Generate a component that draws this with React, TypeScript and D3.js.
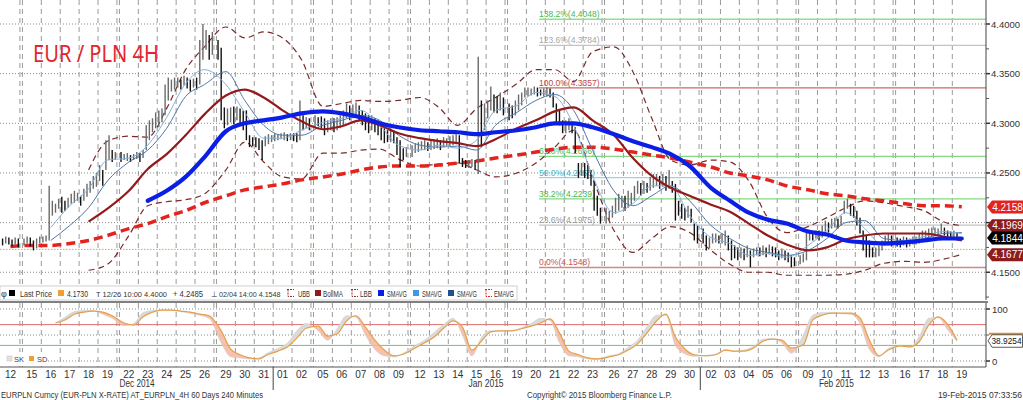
import React from "react";
import * as d3 from "d3";

const W = 1023;
const H = 400;
const FONT = "'Liberation Sans', Arial, sans-serif";

// ---------- categories ----------
const tradingDays = [
  "2014-12-12", "2014-12-15", "2014-12-16", "2014-12-17", "2014-12-18", "2014-12-19",
  "2014-12-22", "2014-12-23", "2014-12-24", "2014-12-25", "2014-12-26",
  "2014-12-29", "2014-12-30", "2014-12-31", "2015-01-01", "2015-01-02",
  "2015-01-05", "2015-01-06", "2015-01-07", "2015-01-08", "2015-01-09",
  "2015-01-12", "2015-01-13", "2015-01-14", "2015-01-15", "2015-01-16",
  "2015-01-19", "2015-01-20", "2015-01-21", "2015-01-22", "2015-01-23",
  "2015-01-26", "2015-01-27", "2015-01-28", "2015-01-29", "2015-01-30",
  "2015-02-02", "2015-02-03", "2015-02-04", "2015-02-05", "2015-02-06",
  "2015-02-09", "2015-02-10", "2015-02-11", "2015-02-12", "2015-02-13",
  "2015-02-16", "2015-02-17", "2015-02-18", "2015-02-19",
];
const BARS_PER_DAY = 6;

// ---------- 4H bars [high, low] ----------
const decBars: [number, number][] = [
  [4.184, 4.177], [4.186, 4.179], [4.185, 4.178], [4.183, 4.176], [4.185, 4.178], [4.184, 4.175],
  [4.184, 4.177], [4.186, 4.179], [4.185, 4.176], [4.182, 4.172], [4.184, 4.174], [4.186, 4.179],
  [4.186, 4.180], [4.187, 4.181], [4.237, 4.182], [4.222, 4.207], [4.219, 4.210], [4.224, 4.214],
  [4.226, 4.210], [4.222, 4.212], [4.225, 4.215], [4.229, 4.219], [4.232, 4.220], [4.230, 4.222],
  [4.227, 4.217], [4.234, 4.222], [4.239, 4.226], [4.242, 4.230], [4.247, 4.234], [4.250, 4.236],
  [4.258, 4.242], [4.253, 4.237], [4.283, 4.253], [4.288, 4.263], [4.273, 4.261], [4.271, 4.263],
  [4.271, 4.261], [4.269, 4.263], [4.270, 4.262], [4.268, 4.261], [4.269, 4.263], [4.271, 4.264],
  [4.270, 4.261], [4.273, 4.265], [4.298, 4.273], [4.303, 4.283], [4.305, 4.291], [4.311, 4.295],
  [4.313, 4.296], [4.315, 4.301], [4.339, 4.308], [4.346, 4.323], [4.344, 4.332], [4.346, 4.334],
  [4.346, 4.336], [4.344, 4.334], [4.348, 4.338], [4.346, 4.335], [4.344, 4.332], [4.345, 4.336],
  [4.346, 4.334], [4.384, 4.339], [4.400, 4.364], [4.394, 4.374], [4.389, 4.364], [4.392, 4.369],
  [4.384, 4.364], [4.376, 4.303], [4.316, 4.295], [4.315, 4.298], [4.316, 4.301], [4.317, 4.299],
  [4.317, 4.303], [4.315, 4.298], [4.313, 4.293], [4.313, 4.283], [4.288, 4.276], [4.286, 4.277],
  [4.286, 4.276], [4.285, 4.273], [4.283, 4.263], [4.287, 4.277], [4.289, 4.279], [4.288, 4.281],
];
const janBars: [number, number][] = [
  [4.290, 4.282], [4.289, 4.283], [4.290, 4.284], [4.291, 4.283], [4.289, 4.282], [4.290, 4.283],
  [4.290, 4.282], [4.290, 4.281], [4.323, 4.283], [4.308, 4.293], [4.306, 4.295], [4.305, 4.293],
  [4.308, 4.296], [4.306, 4.297], [4.307, 4.295], [4.305, 4.288], [4.303, 4.291], [4.305, 4.293],
  [4.305, 4.291], [4.306, 4.293], [4.308, 4.295], [4.313, 4.298], [4.320, 4.305], [4.318, 4.303],
  [4.319, 4.305], [4.321, 4.308], [4.318, 4.303], [4.313, 4.298], [4.310, 4.293], [4.308, 4.290],
  [4.308, 4.293], [4.305, 4.291], [4.303, 4.288], [4.296, 4.283], [4.295, 4.280], [4.293, 4.281],
  [4.295, 4.281], [4.293, 4.280], [4.286, 4.268], [4.283, 4.256], [4.275, 4.263], [4.276, 4.266],
  [4.278, 4.266], [4.280, 4.270], [4.281, 4.271], [4.282, 4.273], [4.283, 4.273], [4.281, 4.272],
  [4.283, 4.273], [4.284, 4.274], [4.285, 4.275], [4.283, 4.273], [4.286, 4.276], [4.285, 4.277],
  [4.287, 4.277], [4.288, 4.278], [4.289, 4.279], [4.288, 4.260], [4.265, 4.256], [4.263, 4.255],
  [4.263, 4.255], [4.264, 4.256], [4.263, 4.253], [4.367, 4.249], [4.323, 4.276], [4.320, 4.293],
  [4.323, 4.305], [4.337, 4.313], [4.329, 4.311], [4.327, 4.310], [4.331, 4.313], [4.326, 4.308],
  [4.320, 4.303], [4.318, 4.305], [4.323, 4.308], [4.329, 4.313], [4.331, 4.318], [4.336, 4.326],
  [4.336, 4.327], [4.335, 4.328], [4.337, 4.329], [4.336, 4.327], [4.334, 4.328], [4.335, 4.327],
  [4.336, 4.327], [4.335, 4.326], [4.331, 4.316], [4.320, 4.300], [4.313, 4.298], [4.303, 4.290],
  [4.303, 4.290], [4.305, 4.293], [4.301, 4.290], [4.296, 4.270], [4.260, 4.245], [4.260, 4.247],
  [4.260, 4.245], [4.258, 4.244], [4.253, 4.237], [4.242, 4.212], [4.227, 4.207], [4.215, 4.199],
  [4.215, 4.199], [4.212, 4.202], [4.217, 4.205], [4.225, 4.209], [4.229, 4.212], [4.227, 4.215],
  [4.227, 4.212], [4.232, 4.215], [4.230, 4.217], [4.237, 4.222], [4.242, 4.229], [4.240, 4.227],
  [4.242, 4.229], [4.240, 4.230], [4.246, 4.232], [4.249, 4.235], [4.249, 4.237], [4.247, 4.234],
  [4.249, 4.236], [4.247, 4.232], [4.253, 4.234], [4.242, 4.230], [4.239, 4.202], [4.222, 4.207],
  [4.219, 4.204], [4.215, 4.202], [4.217, 4.205], [4.214, 4.200], [4.199, 4.182], [4.197, 4.179],
];
const febBars: [number, number][] = [
  [4.194, 4.179], [4.187, 4.172], [4.185, 4.174], [4.189, 4.179], [4.189, 4.180], [4.187, 4.179],
  [4.189, 4.179], [4.192, 4.177], [4.187, 4.172], [4.182, 4.162], [4.177, 4.164], [4.175, 4.162],
  [4.175, 4.164], [4.174, 4.162], [4.177, 4.165], [4.172, 4.155], [4.174, 4.165], [4.175, 4.167],
  [4.175, 4.166], [4.177, 4.167], [4.175, 4.165], [4.178, 4.168], [4.176, 4.166], [4.175, 4.165],
  [4.172, 4.162], [4.174, 4.164], [4.172, 4.162], [4.170, 4.160], [4.167, 4.155], [4.165, 4.156],
  [4.167, 4.158], [4.169, 4.160], [4.192, 4.162], [4.192, 4.182], [4.190, 4.182], [4.192, 4.184],
  [4.192, 4.182], [4.197, 4.185], [4.202, 4.189], [4.200, 4.190], [4.204, 4.194], [4.205, 4.195],
  [4.204, 4.194], [4.207, 4.197], [4.222, 4.209], [4.224, 4.214], [4.219, 4.207], [4.217, 4.205],
  [4.212, 4.197], [4.205, 4.189], [4.192, 4.172], [4.187, 4.165], [4.182, 4.165], [4.175, 4.165],
  [4.175, 4.165], [4.177, 4.166], [4.182, 4.172], [4.187, 4.177], [4.189, 4.179], [4.187, 4.176],
  [4.185, 4.176], [4.184, 4.175], [4.186, 4.177], [4.185, 4.175], [4.184, 4.176], [4.186, 4.178],
  [4.186, 4.178], [4.189, 4.179], [4.192, 4.180], [4.192, 4.182], [4.194, 4.185], [4.195, 4.186],
  [4.195, 4.186], [4.194, 4.187], [4.199, 4.189], [4.195, 4.187], [4.192, 4.185], [4.191, 4.185],
  [4.192, 4.185], [4.190, 4.184],
];

// ---------- daily indicator readings (one per trading day) ----------
const N7 = [null, null, null, null, null, null, null];
const emaAvg: (number | null)[] = [
  4.176, 4.177, 4.177, 4.179, 4.182, 4.187, 4.194, 4.199, 4.206, 4.212,
  4.220, 4.227, 4.233, 4.236, 4.239, 4.243, 4.246, 4.249, 4.253, 4.256,
  4.257, 4.257, 4.258, 4.260, 4.262, 4.265, 4.268, 4.271, 4.274, 4.276,
  4.276, 4.274, 4.271, 4.268, 4.265, 4.261, 4.256, 4.250, 4.247, 4.243,
  4.237, 4.233, 4.229, 4.227, 4.224, 4.222, 4.219, 4.217, 4.217, 4.216,
];
const smaSlow: (number | null)[] = [
  ...N7,
  4.222, 4.232, 4.246, 4.266, 4.292, 4.300, 4.303, 4.306, 4.310, 4.312,
  4.310, 4.306, 4.300, 4.296, 4.293, 4.292, 4.291, 4.289, 4.291, 4.293,
  4.296, 4.300, 4.300, 4.296, 4.289, 4.282, 4.276, 4.269, 4.257, 4.235,
  4.222, 4.210, 4.203, 4.199, 4.191, 4.188, 4.182, 4.180, 4.179, 4.180,
  4.182, 4.184, 4.184,
];
const bollMA: (number | null)[] = [
  null, null, null, null,
  4.201, 4.214, 4.232, 4.254, 4.269, 4.288, 4.309, 4.328, 4.334, 4.326,
  4.313, 4.302, 4.294, 4.297, 4.303, 4.298, 4.290, 4.285, 4.282, 4.280,
  4.277, 4.284, 4.295, 4.303, 4.312, 4.316, 4.303, 4.288, 4.265, 4.247,
  4.235, 4.227, 4.218, 4.211, 4.199, 4.187, 4.178, 4.172, 4.175, 4.183,
  4.187, 4.189, 4.189, 4.189, 4.186, 4.182,
];
const upperBand: (number | null)[] = [
  null, null, null, null,
  4.253, 4.282, 4.287, 4.286, 4.315, 4.354, 4.377, 4.397, 4.386, 4.392,
  4.386, 4.364, 4.317, 4.320, 4.323, 4.322, 4.323, 4.326, 4.316, 4.298,
  4.315, 4.326, 4.340, 4.354, 4.354, 4.342, 4.372, 4.377, 4.352, 4.305,
  4.263, 4.258, 4.263, 4.261, 4.242, 4.205, 4.190, 4.196, 4.205, 4.215,
  4.222, 4.220, 4.216, 4.212, 4.201, 4.197,
];
const lowerBand: (number | null)[] = [
  null, null, null, null,
  4.152, 4.158, 4.187, 4.217, 4.221, 4.223, 4.229, 4.253, 4.281, 4.261,
  4.246, 4.244, 4.270, 4.270, 4.273, 4.274, 4.264, 4.257, 4.259, 4.260,
  4.253, 4.246, 4.250, 4.260, 4.276, 4.293, 4.245, 4.192, 4.170, 4.184,
  4.196, 4.190, 4.172, 4.158, 4.150, 4.150, 4.147, 4.147, 4.147, 4.148,
  4.152, 4.159, 4.161, 4.160, 4.163, 4.168,
];
const smaFast: (number | null)[] = [
  null, null,
  4.195, 4.217, 4.234, 4.263, 4.265, 4.278, 4.306, 4.340, 4.354, 4.339,
  4.311, 4.285, 4.285, 4.293, 4.301, 4.305, 4.313, 4.298, 4.278, 4.273,
  4.278, 4.275, 4.283, 4.313, 4.318, 4.331, 4.327, 4.298, 4.247, 4.210,
  4.219, 4.237, 4.237, 4.207, 4.185, 4.179, 4.167, 4.169, 4.165, 4.177,
  4.192, 4.210, 4.194, 4.177, 4.182, 4.186, 4.191, 4.189,
];
const smaMid: (number | null)[] = [
  null, null,
  4.182, 4.197, 4.215, 4.242, 4.261, 4.273, 4.295, 4.327, 4.339, 4.352,
  4.323, 4.298, 4.288, 4.288, 4.298, 4.303, 4.308, 4.303, 4.288, 4.278,
  4.276, 4.277, 4.273, 4.298, 4.311, 4.323, 4.329, 4.313, 4.273, 4.232,
  4.217, 4.227, 4.237, 4.222, 4.197, 4.184, 4.174, 4.170, 4.167, 4.172,
  4.184, 4.200, 4.202, 4.184, 4.182, 4.184, 4.189, 4.190,
];

// ---------- slow stochastic, two readings per trading day ----------
const N5 = [null, null, null, null, null];
const stochD: (number | null)[] = [
  ...N5, 73,
  79, 90, 94, 96, 94, 87, 73, 69, 85, 94, 98, 98, 96, 94, 90, 87,
  58, 23, 12, 6, 4, 13, 19, 27, 44, 63, 67, 48, 52, 77, 87, 65, 40, 21, 10, 13,
  25, 35, 46, 63, 77, 65, 21, 38, 56, 58, 58, 62, 67, 73, 81, 54, 19, 12, 6, 4,
  8, 12, 21, 33, 54, 77, 90, 46, 23, 12, 10, 12, 21, 19, 19, 25, 38, 42, 40, 25,
  31, 79, 88, 92, 92, 92, 83, 40, 10, 21, 29, 27, 37, 69, 85, 71,
  40,
];
const stochK: (number | null)[] = [
  ...N5, 73,
  84, 95, 97, 97, 90, 82, 68, 72, 93, 97, 98, 98, 95, 92, 88, 82,
  35, 8, 6, 4, 6, 16, 24, 34, 58, 72, 58, 40, 62, 87, 84, 50, 22, 10, 8, 15,
  30, 40, 55, 70, 82, 50, 10, 45, 58, 58, 59, 64, 72, 82, 78, 35, 10, 8, 4, 3,
  10, 14, 26, 40, 66, 88, 88, 30, 14, 9, 11, 13, 22, 18, 21, 28, 42, 43, 35, 15,
  50, 88, 93, 93, 91, 90, 72, 22, 8, 24, 29, 27, 47, 82, 84, 60,
  38,
];

// ---------- fibonacci levels ----------
const fibPct = ["138.2%", "123.6%", "100.0%", "61.8%", "50.0%", "38.2%", "23.6%", "0.0%"];
const fibVal = [4.4048, 4.3784, 4.3357, 4.2666, 4.2453, 4.2239, 4.1975, 4.1548];
const fibColor = ["#8ee08e", "#c4c4c4", "#c86a6a", "#84d884", "#8fd8e4", "#84d884", "#c4c4c4", "#c98b8b"];
const fibTextColor = ["#4cb84c", "#a8a8a8", "#c04848", "#4cb84c", "#3fb8cc", "#4cb84c", "#9a9a9a", "#c05858"];
const FIB_START_DAY = 27;
const FIB_START_BAR = 4;

// ---------- axis ticks & tags ----------
const priceTicks = [4.40, 4.35, 4.30, 4.25, 4.20, 4.15];
const priceMinor = [4.375, 4.325, 4.275, 4.225, 4.175, 4.125];
const stochTicks = [100, 0];
const stochGrid = [100, 50, 0];
const stochUpper = 70;
const stochLower = 30;
const lastPrice = 4.1730;
const tagValues = [4.2158, 4.1969, 4.1844, 4.1677];
const tagFill = ["#e3231e", "#8c1c1c", "#000000", "#8c1c1c"];
const stochLast = 38.9254;

export default function App() {
  const parse = d3.utcParse("%Y-%m-%d");
  const dates = tradingDays.map((s) => parse(s) as Date);
  const weekendBefore = dates.map((d, i) => (i > 0 && d3.utcDay.count(dates[i - 1], d) > 1 ? 1 : 0));
  const wkCum = Array.from(d3.cumsum(weekendBefore));
  const GAP = 0.8;
  const slotStart = dates.map((_, i) => i * BARS_PER_DAY + wkCum[i] * GAP);
  const totalSlots = slotStart[slotStart.length - 1] + BARS_PER_DAY;
  const SLOT_PX = 3.15;
  const x = d3.scaleLinear().domain([0, totalSlots]).range([1, 1 + totalSlots * SLOT_PX]);

  const PLOT_R = 986;
  const MAIN_TOP = 0;
  const MAIN_BOT = 300;
  const ST_TOP = 303;
  const ST_BOT = 367;

  const y = d3.scaleLinear().domain([4.4, 4.15]).range([24, 272.25]);
  const ys = d3.scaleLinear().domain([0, 100]).range([361, 309]);

  const bars = [...decBars, ...janBars, ...febBars];
  const barX = (k: number) => x(slotStart[Math.floor(k / BARS_PER_DAY)] + (k % BARS_PER_DAY) + 0.5);
  const dayX = (i: number) => x(slotStart[i] + BARS_PER_DAY / 2);
  const halfX = (h: number) => x(slotStart[Math.floor(h / 2)] + 1.5 + 3 * (h % 2));

  const mk = (vals: (number | null)[], xAt: (i: number) => number, sc: (v: number) => number) => {
    const pts = vals.map((v, i) => [xAt(i), v] as [number, number | null]);
    return (
      d3
        .line<[number, number | null]>()
        .defined((p) => p[1] != null)
        .x((p) => p[0])
        .y((p) => sc(p[1] as number))
        .curve(d3.curveMonotoneX)(pts) || ""
    );
  };

  // grid verticals
  const vLines: number[] = [];
  dates.forEach((_, i) => {
    if (i === 0) return;
    if (weekendBefore[i]) vLines.push(x(slotStart[i - 1] + BARS_PER_DAY));
    vLines.push(x(slotStart[i]));
  });

  // month groups
  const fmtMonth = d3.utcFormat("%b %Y");
  const fmtDay = d3.utcFormat("%d");
  const months = d3.groups(dates.map((d, i) => ({ d, i })), (o) => fmtMonth(o.d));
  const monthSeps: number[] = [];
  months.forEach((m, mi) => {
    if (mi === 0) return;
    const first = m[1][0].i;
    monthSeps.push((x(slotStart[first - 1] + BARS_PER_DAY) + x(slotStart[first])) / 2);
  });

  // stochastic fills
  type SP = { x: number; d: number; k: number };
  const sp: SP[] = [];
  stochD.forEach((dv, i) => {
    const kv = stochK[i];
    if (dv != null && kv != null) sp.push({ x: halfX(i), d: dv, k: kv });
  });
  const between = d3.area<SP>().x((p) => p.x).y0((p) => ys(p.d)).y1((p) => ys(p.k)).curve(d3.curveMonotoneX)(sp) || "";
  const aboveD = d3.area<SP>().x((p) => p.x).y0(ST_TOP).y1((p) => ys(p.d)).curve(d3.curveMonotoneX)(sp) || "";
  const belowD = d3.area<SP>().x((p) => p.x).y0(ST_BOT).y1((p) => ys(p.d)).curve(d3.curveMonotoneX)(sp) || "";

  const fibX0 = x(slotStart[FIB_START_DAY] + FIB_START_BAR);

  const tagYs = tagValues.map((v) => y(v));
  const hiddenTick = (t: number) => tagYs.some((ty) => Math.abs(ty - y(t)) < 9);

  const tag = (v: number, fill: string, key: number) => {
    const yc = y(v);
    return (
      <g key={key}>
        <path d={`M987,${yc} L992,${yc - 6.5} L1023,${yc - 6.5} L1023,${yc + 6.5} L992,${yc + 6.5} Z`} fill={fill} />
        <text x={1007.5} y={yc + 3.6} textAnchor="middle" fill="#fff" fontSize={10} fontFamily={FONT}>
          {v.toFixed(4)}
        </text>
      </g>
    );
  };

  const legendText = (tx: number, s: string, len?: number, fs = 8.5) => (
    <text x={tx} y={296.5} fontSize={fs} fill="#333" fontFamily={FONT} textLength={len} lengthAdjust="spacingAndGlyphs">
      {s}
    </text>
  );

  const stEnd = ys(stochLast);

  return (
    <svg width={W} height={H} style={{ position: "absolute", left: 0, top: 0, background: "#fff" }} fontFamily={FONT}>
      <defs>
        <clipPath id="clipAbove"><path d={aboveD} /></clipPath>
        <clipPath id="clipBelow"><path d={belowD} /></clipPath>
        <clipPath id="mainClip"><rect x={0} y={MAIN_TOP} width={PLOT_R} height={MAIN_BOT - MAIN_TOP} /></clipPath>
      </defs>
      <rect x={0} y={0} width={W} height={H} fill="#fff" />

      {/* vertical dashed grid */}
      <g stroke="#9a9a9a" strokeWidth={1} strokeDasharray="5,4">
        {vLines.map((vx, i) => (
          <line key={"m" + i} x1={vx} x2={vx} y1={MAIN_TOP} y2={MAIN_BOT} />
        ))}
        {vLines.map((vx, i) => (
          <line key={"s" + i} x1={vx} x2={vx} y1={ST_TOP} y2={ST_BOT} />
        ))}
      </g>
      {/* horizontal dotted grid */}
      <g stroke="#8a8a8a" strokeWidth={1} strokeDasharray="1,2">
        {priceTicks.map((t) => (
          <line key={t} x1={0} x2={PLOT_R} y1={y(t)} y2={y(t)} />
        ))}
        {stochGrid.map((t) => (
          <line key={"s" + t} x1={0} x2={PLOT_R} y1={ys(t)} y2={ys(t)} />
        ))}
      </g>

      {/* fibonacci */}
      {fibVal.map((v, i) => (
        <g key={"fib" + i}>
          <line x1={fibX0} x2={PLOT_R} y1={y(v)} y2={y(v)} stroke={fibColor[i]} strokeWidth={1.3} />
          <text x={fibX0} y={y(v) - 2} fontSize={8.5} fill={fibTextColor[i]} fontFamily={FONT}>
            {`${fibPct[i]}(${v.toFixed(4)})`}
          </text>
        </g>
      ))}

      {/* last price dotted */}
      <line x1={0} x2={PLOT_R} y1={y(lastPrice)} y2={y(lastPrice)} stroke="#f0a030" strokeWidth={1} strokeDasharray="1.5,1.5" />

      <g clipPath="url(#mainClip)">
        {/* bollinger bands */}
        <path d={mk(upperBand, dayX, y)} fill="none" stroke="#7a2a2a" strokeWidth={1.2} strokeDasharray="6,4" />
        <path d={mk(lowerBand, dayX, y)} fill="none" stroke="#7a2a2a" strokeWidth={1.2} strokeDasharray="6,4" />
        {/* EMA */}
        <path d={mk(emaAvg, dayX, y)} fill="none" stroke="#e3231e" strokeWidth={3.5} strokeDasharray="9,5" />

        {/* bars */}
        <g>
          {bars.map((b, k) => {
            const bx = barX(k);
            const prev = k > 0 ? (bars[k - 1][0] + bars[k - 1][1]) / 2 : b[0];
            const up = (b[0] + b[1]) / 2 >= prev;
            return (
              <line key={k} x1={bx} x2={bx} y1={y(b[0])} y2={y(b[1])} stroke={up ? "#6a6a6a" : "#111"} strokeWidth={1.4} />
            );
          })}
        </g>

        {/* thin SMAs */}
        <path d={mk(smaMid, dayX, y)} fill="none" stroke="#4f77a6" strokeWidth={1} />
        <path d={mk(smaFast, dayX, y)} fill="none" stroke="#86b0d8" strokeWidth={1} />
        {/* Boll MA */}
        <path d={mk(bollMA, dayX, y)} fill="none" stroke="#94191c" strokeWidth={2.2} />
        {/* thick SMA */}
        <path d={mk(smaSlow, dayX, y)} fill="none" stroke="#0a1ee6" strokeWidth={4.2} strokeLinecap="round" />
      </g>

      {/* title */}
      <text x={33} y={62} fontSize={23} fill="#e3262b" fontFamily="'Noto Sans', 'Open Sans', sans-serif" textLength={126} lengthAdjust="spacingAndGlyphs">
        EUR / PLN 4H
      </text>

      {/* main legend */}
      <rect x={0} y={286} width={517} height={14} fill="#fff" stroke="#d0d0d0" strokeWidth={1} />
      <text x={1} y={296.5} fontSize={9} fill="#333">φ</text>
      <rect x={9} y={290} width={6} height={6} fill="#000" />
      {legendText(20, "Last Price", 32)}
      <rect x={58} y={290} width={6} height={6} fill="#f0a030" />
      {legendText(67, "4.1730", 21)}
      {legendText(96, "T 12/26 10:00 4.4000", 71, 7.3)}
      {legendText(173, "+ 4.2485", 30)}
      {legendText(210.5, "⊥ 02/04 14:00 4.1548", 70, 7.6)}
      <path d="M287,289.5 L294,289.5 M288,289.5 L288,296.5 L294,296.5" fill="none" stroke="#8b3030" strokeDasharray="2,1" />
      {legendText(298, "UBB", 12)}
      <rect x={315} y={290} width={6} height={6} fill="#94191c" />
      {legendText(323, "BollMA", 20)}
      <path d="M351,289.5 L358,289.5 M352,289.5 L352,296.5 L358,296.5" fill="none" stroke="#8b3030" strokeDasharray="2,1" />
      {legendText(360, "LBB", 12)}
      <rect x={378} y={290} width={6} height={6} fill="#0a1ee6" />
      {legendText(387, "SMAVG", 20)}
      <rect x={413} y={290} width={6} height={6} fill="#3a9ae8" />
      {legendText(422, "SMAVG", 20)}
      <rect x={448} y={290} width={6} height={6} fill="#1f4f8f" />
      {legendText(457, "SMAVG", 20)}
      <path d="M485,289.5 L492,289.5 M486,289.5 L486,296.5 L492,296.5" fill="none" stroke="#e3231e" strokeDasharray="2,1" />
      {legendText(494, "EMAVG", 20)}

      {/* right price axis */}
      <line x1={PLOT_R} x2={PLOT_R} y1={0} y2={MAIN_BOT} stroke="#444" />
      {priceTicks.map((t) => (
        <g key={"pt" + t}>
          <line x1={PLOT_R} x2={PLOT_R + 4} y1={y(t)} y2={y(t)} stroke="#333" strokeWidth={1.5} />
          {!hiddenTick(t) && (
            <text x={991} y={y(t) + 3.5} fontSize={9.5} fill="#333">{t.toFixed(4)}</text>
          )}
        </g>
      ))}
      {priceMinor.map((t) => (
        <line key={"pm" + t} x1={PLOT_R} x2={PLOT_R + 3} y1={y(t)} y2={y(t)} stroke="#555" />
      ))}
      {tagValues.map((v, i) => tag(v, tagFill[i], i))}

      {/* stochastic panel */}
      <line x1={0} x2={PLOT_R + 2} y1={302} y2={302} stroke="#808080" strokeWidth={2} />
      <line x1={0} x2={PLOT_R} y1={ys(stochUpper)} y2={ys(stochUpper)} stroke="#e07070" strokeWidth={1} />
      <line x1={0} x2={PLOT_R} y1={ys(stochLower)} y2={ys(stochLower)} stroke="#72c272" strokeWidth={1} />
      <path d={between} fill="#dadada" clipPath="url(#clipAbove)" />
      <path d={between} fill="#f7b6a0" opacity={0.85} clipPath="url(#clipBelow)" />
      <path d={mk(stochK, halfX, ys)} fill="none" stroke="#d0d0d0" strokeWidth={0.7} />
      <path d={mk(stochD, halfX, ys)} fill="none" stroke="#e3a04a" strokeWidth={1.2} />
      <line x1={0} x2={PLOT_R} y1={ST_BOT} y2={ST_BOT} stroke="#555" />
      <line x1={PLOT_R} x2={PLOT_R} y1={ST_TOP} y2={ST_BOT} stroke="#444" />
      {stochTicks.map((t) => (
        <g key={"st" + t}>
          <line x1={PLOT_R} x2={PLOT_R + 4} y1={ys(t)} y2={ys(t)} stroke="#333" strokeWidth={1.5} />
          <text x={992} y={ys(t) + 3.5} fontSize={9.5} fill="#333">{t}</text>
        </g>
      ))}
      <line x1={PLOT_R} x2={PLOT_R + 3} y1={ys(50)} y2={ys(50)} stroke="#555" />
      <line x1={989} x2={1023} y1={stEnd - 7} y2={stEnd - 7} stroke="#e58a2a" strokeWidth={2} />
      <path d={`M988,${stEnd} L992,${stEnd - 6} L1022.5,${stEnd - 6} L1022.5,${stEnd + 6.5} L992,${stEnd + 6.5} Z`} fill="#fff" stroke="#333" strokeWidth={0.8} />
      <text x={991.5} y={stEnd + 3.6} fontSize={8.3} fill="#111">{stochLast.toFixed(4)}</text>
      {/* stochastic legend */}
      <rect x={0} y={352} width={47} height={13} fill="#fff" />
      <rect x={7} y={356} width={5} height={5} fill="#e2e2e2" stroke="#c0c0c0" strokeWidth={0.5} />
      <text x={14} y={362} fontSize={7.5} fill="#444">SK</text>
      <rect x={29} y={356} width={5} height={5} fill="#f0a030" />
      <text x={37} y={362} fontSize={7.5} fill="#444">SD</text>

      {/* date axis */}
      {dates.map((d, i) => (
        <text key={"dl" + i} x={dayX(i)} y={377.5} fontSize={10} textAnchor="middle" fill="#333">
          {fmtDay(d)}
        </text>
      ))}
      {months.map((m) => {
        const first = m[1][0].i;
        const last = m[1][m[1].length - 1].i;
        const cx = (x(slotStart[first]) + x(slotStart[last] + BARS_PER_DAY)) / 2;
        return (
          <text key={m[0]} x={cx} y={387} fontSize={10} textAnchor="middle" fill="#333" textLength={35} lengthAdjust="spacingAndGlyphs">
            {m[0]}
          </text>
        );
      })}
      {monthSeps.map((sx, i) => (
        <line key={"ms" + i} x1={sx} x2={sx} y1={ST_BOT} y2={390} stroke="#444" />
      ))}

      {/* footer */}
      <text x={1} y={397.5} fontSize={8.5} fill="#333" textLength={262} lengthAdjust="spacingAndGlyphs">
        EURPLN Curncy (EUR-PLN X-RATE) AT_EURPLN_4H 60 Days 240 Minutes
      </text>
      <text x={527} y={397.5} fontSize={8.5} fill="#333" textLength={145} lengthAdjust="spacingAndGlyphs">
        Copyright© 2015 Bloomberg Finance L.P.
      </text>
      <text x={1022} y={397.5} fontSize={8.5} fill="#333" textAnchor="end">
        19-Feb-2015 07:33:56
      </text>
    </svg>
  );
}
